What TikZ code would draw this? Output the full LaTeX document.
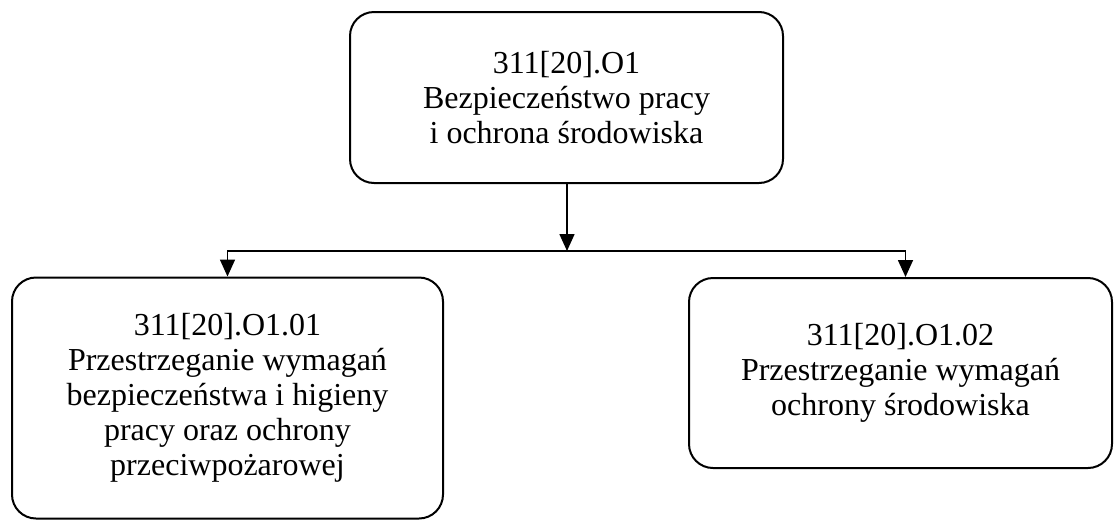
\documentclass[tikz,border=0pt]{standalone}
\usepackage{fontspec}
\setmainfont{Liberation Serif}
\usetikzlibrary{arrows.meta}

\begin{document}
\begin{tikzpicture}[x=1pt, y=-1pt]
			\tikzset{box/.style={draw, line width=2pt, rounded corners=24pt, align=center, inner sep=0pt, font=\fontsize{32}{35}\selectfont}}
			\tikzset{link/.style={line width=1.6pt}}
			\tikzset{tip/.style={link, -{Triangle[length=17pt, width=15pt]}}}
			
			\useasboundingbox (0,0) rectangle (1114,520);
			
			\node[box, minimum width=433pt, minimum height=171pt] (b_0) at (566.5,97.5) {311[20].O1\\Bezpieczeństwo pracy\\i ochrona środowiska};
			\node[box, minimum width=431pt, minimum height=241pt] (b_1) at (227.5,398) {311[20].O1.01\\Przestrzeganie wymagań\\bezpieczeństwa i higieny\\pracy oraz ochrony\\przeciwpożarowej};
			\node[box, minimum width=423pt, minimum height=190pt] (b_2) at (900.5,373) {311[20].O1.02\\Przestrzeganie wymagań\\ochrony środowiska};
			
			\coordinate (s) at (567,251);
			\draw[tip] (b_0.south -| s) -- (s);
			\draw[tip] (s) -| (b_1.north);
			\draw[tip] (s) -| ([xshift=5pt]b_2.north);
			
		\end{tikzpicture}
\end{document}
